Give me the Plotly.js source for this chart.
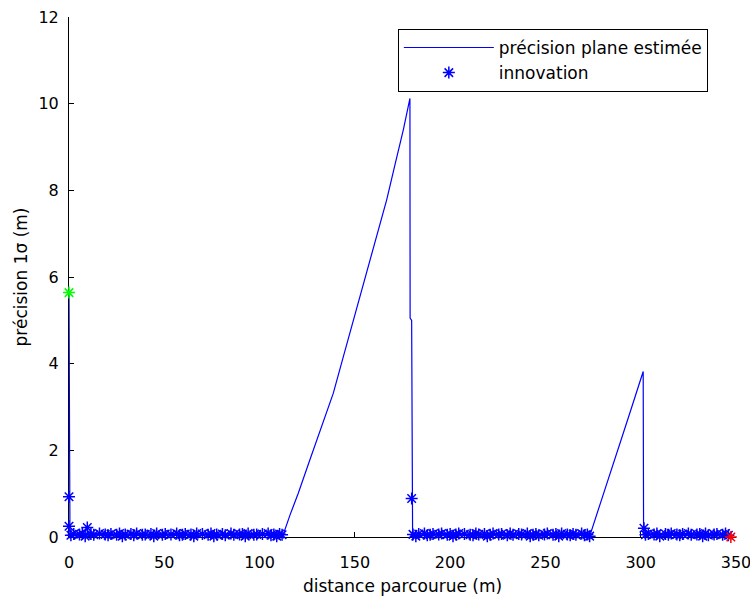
<!DOCTYPE html>
<html>
<head>
<meta charset="utf-8">
<script src="https://cdn.plot.ly/plotly-3.0.1.min.js"></script>
<style>html,body{margin:0;padding:0;background:#fff;}#chart{width:750px;height:597px;}</style>
</head>
<body>
<div id="chart"></div>
<script>
// Estimated plane precision (1 sigma), m
const precX = [0, 0.1, 0.2, 0.5, 10, 50, 100, 112.3, 116, 120.3, 126, 132, 138.7, 144, 150, 156.2, 161, 166.7, 171, 175.4, 178.9, 179.0, 179.8, 179.9, 180.3, 220, 250, 273.4, 279, 284.7, 289, 293.4, 297, 301.3, 301.5, 301.8, 320, 347.3];
const precY = [5.64, 0.93, 0.25, 0.05, 0.04, 0.04, 0.04, 0.04, 0.51, 1.01, 1.73, 2.48, 3.32, 4.17, 5.13, 6.12, 6.88, 7.78, 8.58, 9.39, 10.12, 5.05, 5.0, 0.89, 0.05, 0.04, 0.04, 0.04, 0.8, 1.55, 2.15, 2.74, 3.23, 3.82, 0.2, 0.05, 0.04, 0.04];

// Innovation markers: isolated larger values
const spikeX = [0, 0, 9.6, 179.8, 301.7];
const spikeY = [0.93, 0.25, 0.22, 0.89, 0.2];

// Innovation markers: first stretch (0–112 m)
const seg1X = [1, 2.5, 4, 5.5, 7, 8.5, 10, 11.5, 13, 14.5, 16, 17.5, 19, 20.5, 22, 23.5, 25, 26.5, 28, 29.5, 31, 32.5, 34, 35.5, 37, 38.5, 40, 41.5, 43, 44.5, 46, 47.5, 49, 50.5, 52, 53.5, 55, 56.5, 58, 59.5, 61, 62.5, 64, 65.5, 67, 68.5, 70, 71.5, 73, 74.5, 76, 77.5, 79, 80.5, 82, 83.5, 85, 86.5, 88, 89.5, 91, 92.5, 94, 95.5, 97, 98.5, 100, 101.5, 103, 104.5, 106, 107.5, 109, 110.5, 111.8];
const seg1Y = [0.04, 0.07, -0.04, 0.06, 0.08, 0.02, -0.07, 0.07, 0.05, -0.01, 0.08, -0.04, 0.06, 0.04, 0.07,
  -0.07, 0.05, 0.08, 0.02, 0.06, -0.04, 0.07, 0.04, 0.08, -0.07, 0.05, 0.06, -0.01, 0.07, 0.02,
  0.08, -0.04, 0.05, 0.07, -0.01, 0.06, -0.07, 0.08, 0.04, 0.05, 0.07, -0.04, 0.06, 0.02, 0.08,
  -0.01, 0.07, -0.07, 0.05, 0.08, 0.02, 0.06, -0.04, 0.07, 0.04, -0.01, 0.08, 0.05, -0.07, 0.06,
  0.07, 0.02, 0.08, -0.04, 0.05, 0.06, -0.01, 0.07, -0.07, 0.08, 0.04, 0.06, 0.02, 0.07, 0.05];

// Innovation markers: second stretch (180–273 m)
const seg2X = [180.5, 182, 183.5, 185, 186.5, 188, 189.5, 191, 192.5, 194, 195.5, 197, 198.5, 200, 201.5, 203, 204.5, 206, 207.5, 209, 210.5, 212, 213.5, 215, 216.5, 218, 219.5, 221, 222.5, 224, 225.5, 227, 228.5, 230, 231.5, 233, 234.5, 236, 237.5, 239, 240.5, 242, 243.5, 245, 246.5, 248, 249.5, 251, 252.5, 254, 255.5, 257, 258.5, 260, 261.5, 263, 264.5, 266, 267.5, 269, 270.5, 272, 273.2];
const seg2Y = [0.06, 0.02, 0.07, -0.04, 0.08, 0.04, 0.05, 0.07, -0.01, 0.06, 0.08, -0.07, 0.05, 0.07, 0.02,
  0.06, 0.08, -0.01, 0.07, -0.04, 0.05, 0.04, 0.08, 0.06, -0.07, 0.07, 0.02, 0.05, 0.08, -0.01,
  0.06, 0.07, -0.04, 0.04, 0.08, 0.05, -0.01, 0.07, 0.06, -0.07, 0.08, 0.02, 0.05, 0.07, 0.04,
  -0.04, 0.06, 0.08, -0.01, 0.05, 0.07, 0.02, 0.08, -0.07, 0.06, 0.04, 0.07, 0.05, -0.01, 0.08,
  0.04, 0.06, 0.02];

// Innovation markers: third stretch (302–347 m)
const seg3X = [302.5, 304, 305.5, 307, 308.5, 310, 311.5, 313, 314.5, 316, 317.5, 319, 320.5, 322, 323.5, 325, 326.5, 328, 329.5, 331, 332.5, 334, 335.5, 337, 338.5, 340, 341.5, 343, 344.5, 346];
const seg3Y = [0.05, 0.07, -0.01, 0.06, 0.08, 0.02, -0.07, 0.07, 0.05, 0.08, -0.04, 0.06, 0.04, 0.07, -0.01,
  0.08, 0.05, -0.04, 0.06, 0.07, 0.02, 0.08, 0.04, -0.07, 0.06, 0.07, -0.01, 0.05, 0.08, 0.04];

// Start (green) and end (red) markers
const startX = [0], startY = [5.64];
const endX = [347.3], endY = [0.0];

const xTicks = [0, 50, 100, 150, 200, 250, 300, 350];
const yTicks = [0, 2, 4, 6, 8, 10, 12];

const innovX = spikeX.concat(seg1X, seg2X, seg3X);
const innovY = spikeY.concat(seg1Y, seg2Y, seg3Y);

const FONT = 'DejaVu Sans, Arial, sans-serif';
const MS = 10, MW = 1.5;
const data = [
  {x: precX, y: precY, type: 'scatter', mode: 'lines', name: 'précision plane estimée',
   line: {color: '#0000ff', width: 1.2}, cliponaxis: false},
  {x: innovX, y: innovY, type: 'scatter', mode: 'markers', name: 'innovation',
   marker: {symbol: 'asterisk-open', size: MS, color: '#0000ff', line: {color: '#0000ff', width: MW}}, cliponaxis: false},
  {x: startX, y: startY, type: 'scatter', mode: 'markers', showlegend: false,
   marker: {symbol: 'asterisk-open', size: MS, color: '#00ff00', line: {color: '#00ff00', width: MW}}, cliponaxis: false},
  {x: endX, y: endY, type: 'scatter', mode: 'markers', showlegend: false,
   marker: {symbol: 'asterisk-open', size: MS, color: '#ff0000', line: {color: '#ff0000', width: MW}}, cliponaxis: false}
];

const layout = {
  width: 750, height: 597,
  margin: {l: 69, r: 14, t: 17, b: 60},
  paper_bgcolor: '#fff', plot_bgcolor: '#fff',
  font: {family: FONT, size: 16, color: '#000'},
  showlegend: true,
  legend: {x: 0.493, y: 0.977, xanchor: 'left', yanchor: 'top', bgcolor: '#fff',
           bordercolor: '#000', borderwidth: 1, itemwidth: 90, font: {family: FONT, size: 17, color: '#000'},
           tracegroupgap: 0},
  xaxis: {range: [0, 350], tickvals: xTicks, ticktext: xTicks.map(String), ticks: 'inside', ticklen: 5,
          tickcolor: '#000', showline: true, linecolor: '#000', linewidth: 1, mirror: false,
          showgrid: false, zeroline: false, layer: 'below traces', ticklabelstandoff: 11,
          ticklabeloverflow: 'allow', tickfont: {family: FONT, size: 16},
          title: {text: 'distance parcourue (m)', font: {family: FONT, size: 17}, standoff: 8}},
  yaxis: {range: [0, 12], tickvals: yTicks, ticktext: yTicks.map(String), ticks: 'inside', ticklen: 5,
          tickcolor: '#000', showline: true, linecolor: '#000', linewidth: 1, mirror: false,
          showgrid: false, zeroline: false, layer: 'below traces', ticklabelstandoff: 6,
          ticklabeloverflow: 'allow', tickfont: {family: FONT, size: 16},
          title: {text: 'précision 1σ (m)', font: {family: FONT, size: 17}, standoff: 6}}
};

Plotly.newPlot('chart', data, layout, {displayModeBar: false, staticPlot: true});
</script>
</body>
</html>
